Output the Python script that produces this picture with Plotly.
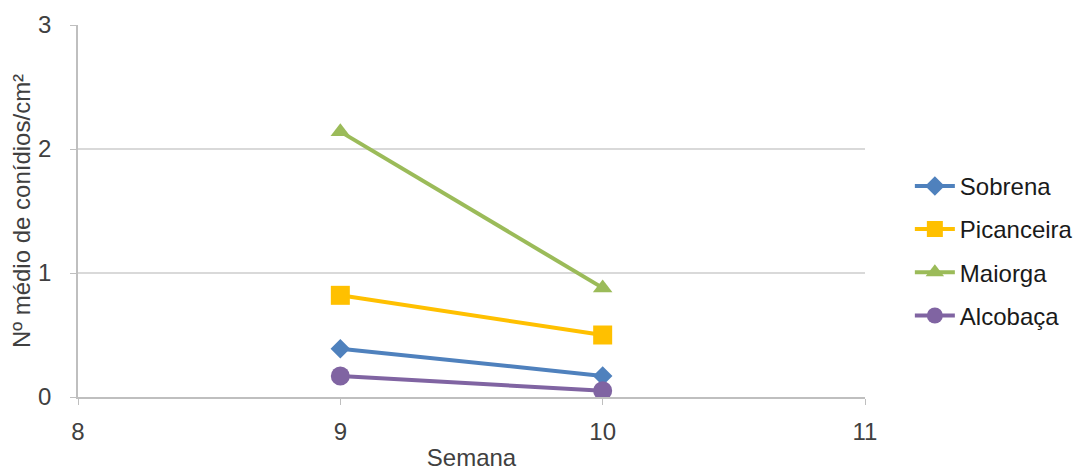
import plotly.graph_objects as go

semanas = [9, 10]
series_names = ["Sobrena", "Picanceira", "Maiorga", "Alcobaça"]
sobrena = [0.39, 0.17]
picanceira = [0.82, 0.50]
maiorga = [2.14, 0.88]
alcobaca = [0.17, 0.05]
x_ticks = [8, 9, 10, 11]
y_ticks = [0, 1, 2, 3]

values = [sobrena, picanceira, maiorga, alcobaca]
colors = ["#4F81BD", "#FFC000", "#9BBB59", "#8064A2"]
symbols = ["diamond", "square", "triangle-up", "circle"]
sizes = [15, 19, 17, 19]

FONT = "Liberation Sans, Arial, sans-serif"
TXT = "#404040"
FS = 24

fig = go.Figure()
for name, vals, c, s, sz in zip(series_names, values, colors, symbols, sizes):
    fig.add_trace(go.Scatter(
        x=semanas, y=vals, name=name, mode="lines+markers",
        line=dict(color=c, width=4),
        marker=dict(symbol=s, size=sz, color=c),
        legendgroup=name,
    ))

fig.update_layout(
    width=1086, height=473,
    margin=dict(l=70, r=229, t=17, b=84, autoexpand=False),
    paper_bgcolor="white", plot_bgcolor="white",
    font=dict(family=FONT, size=FS, color=TXT),
    showlegend=True,
    legend=dict(x=1.057, xanchor="left", y=0.393, yanchor="middle",
                font=dict(family=FONT, size=FS, color="#1a1a1a"),
                tracegroupgap=9, itemwidth=40),
    xaxis=dict(range=[8, 11], tickvals=x_ticks, showgrid=False, automargin=False,
               showline=True, linecolor="#BFBFBF", linewidth=1.5,
               ticks="outside", ticklen=6, tickcolor="#BFBFBF",
               ticklabelstandoff=6,
               tickfont=dict(size=FS, color=TXT), zeroline=False,
               title=dict(text="Semana", font=dict(size=FS, color=TXT), standoff=6)),
    yaxis=dict(range=[0, 3], tickvals=y_ticks, showgrid=True, automargin=False,
               gridcolor="#D9D9D9", gridwidth=1.5,
               showline=True, linecolor="#BFBFBF", linewidth=1.5,
               ticks="outside", ticklen=6, tickcolor="#BFBFBF",
               ticklabelstandoff=14,
               tickfont=dict(size=FS, color=TXT), zeroline=False,
               title=dict(text="Nº médio de conídios/cm²", font=dict(size=FS, color=TXT), standoff=8)),
)

fig.write_html("out.html")
